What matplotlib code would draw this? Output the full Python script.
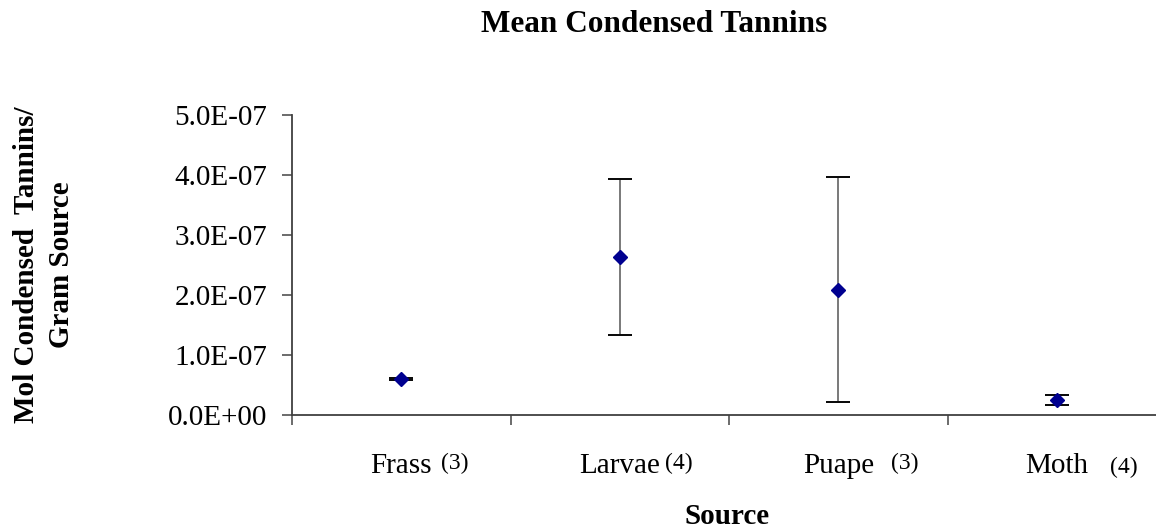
import matplotlib
matplotlib.use("Agg")
import matplotlib.pyplot as plt
import matplotlib.transforms as mtransforms
import numpy as np

# ---- data ----
categories = ["Frass", "Larvae", "Puape", "Moth"]
n_labels = ["(3)", "(4)", "(3)", "(4)"]
means = [6.05e-8, 2.63e-7, 2.09e-7, 2.45e-8]
errors = [0.15e-8, 1.30e-7, 1.88e-7, 0.85e-8]
y_ticks = [0.0, 1e-7, 2e-7, 3e-7, 4e-7, 5e-7]
y_tick_labels = ["0.0E+00", "1.0E-07", "2.0E-07", "3.0E-07", "4.0E-07", "5.0E-07"]

# ---- layout / style ----
W, H, DPI = 1156, 529, 100
serif = ["Liberation Serif", "DejaVu Serif"]
plt.rcParams["font.family"] = serif
n_offset_px = [40, 45, 53, 53]       # horizontal offset of "(n)" from category centre
n_baseline_px = [-54, -54, -54, -58]  # baseline of "(n)" below axis

fig = plt.figure(figsize=(W / DPI, H / DPI), dpi=DPI)
ax = fig.add_axes([292 / W, (H - 415) / H, 874 / W, 300 / H])

x = np.arange(len(categories)) + 0.5
ax.errorbar(x, means, yerr=errors, fmt="none", ecolor="#6e6e6e",
            elinewidth=1.3, capsize=8.5, capthick=1.3, zorder=2)
# black caps drawn over grey
ax.errorbar(x, means, yerr=errors, fmt="none", ecolor="black",
            elinewidth=0, capsize=8.5, capthick=1.3, zorder=3)
ax.plot(x, means, linestyle="none", marker="D", markersize=7.6,
        color="#000090", markeredgecolor="#000090", zorder=4)

ax.set_xlim(0, len(categories))
ax.set_ylim(0, 5e-7)

for s in ["top", "right"]:
    ax.spines[s].set_visible(False)
for s in ["left", "bottom"]:
    ax.spines[s].set_color("#404040")
    ax.spines[s].set_linewidth(1.3)

ax.set_yticks(y_ticks)
ax.set_yticklabels(y_tick_labels, fontsize=21)
ax.set_xticks(np.arange(len(categories) + 1))
ax.set_xticklabels([])
ax.tick_params(axis="both", which="major", direction="out", length=7.0,
               width=1.3, color="#606060")
ax.tick_params(axis="y", pad=11)

trans = mtransforms.blended_transform_factory(ax.transData, ax.transAxes)
for xi, name, nl, off, bl in zip(x, categories, n_labels, n_offset_px, n_baseline_px):
    ax.annotate(name, xy=(xi, 0), xycoords=trans, xytext=(0, -58 * 72 / DPI),
                textcoords="offset points", ha="center", va="baseline",
                fontsize=21, annotation_clip=False)
    ax.annotate(nl, xy=(xi, 0), xycoords=trans,
                xytext=(off * 72 / DPI, bl * 72 / DPI),
                textcoords="offset points", ha="left", va="baseline",
                fontsize=17, annotation_clip=False)

fig.text(654 / W, (H - 32) / H, "Mean Condensed Tannins", ha="center",
         va="baseline", fontsize=22.5, fontweight="bold")
fig.text(727 / W, (H - 524) / H, "Source", ha="center", va="baseline",
         fontsize=21, fontweight="bold")
fig.text(44 / W, (H - 265) / H, "Mol Condensed  Tannins/\nGram Source",
         rotation=90, ha="center", va="center", multialignment="center",
         fontsize=21, fontweight="bold", linespacing=1.4)

fig.savefig("out.png", dpi=DPI)
